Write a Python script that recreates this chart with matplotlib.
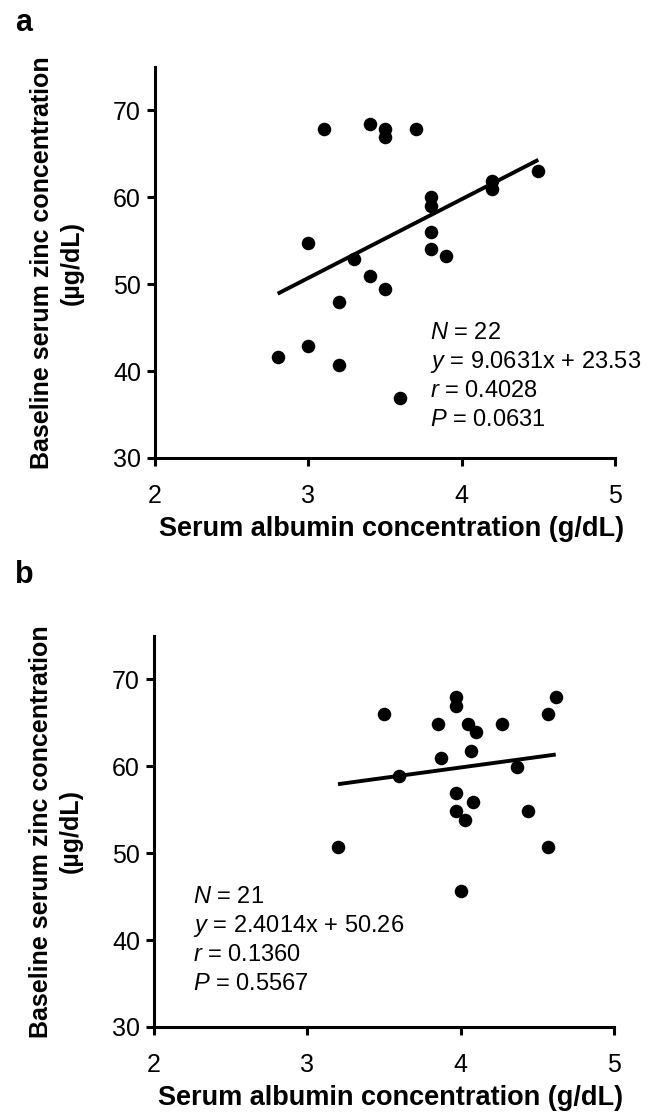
import numpy as np
import matplotlib
matplotlib.use('Agg')
from matplotlib import pyplot as plt

# panel a: albumin (g/dL) vs baseline zinc (ug/dL)
alb_a = [2.8, 3.0, 3.2, 3.6, 3.0, 3.2, 3.3, 3.4, 3.5, 3.1, 3.4,
         3.5, 3.5, 3.7, 3.8, 3.8, 3.8, 3.8, 3.9, 4.2, 4.2, 4.5]
zinc_a = [41.6, 42.9, 40.7, 36.9, 54.8, 47.9, 52.9, 51.0, 49.4, 67.9, 68.4,
          67.9, 66.9, 67.9, 60.0, 59.0, 56.0, 54.0, 53.3, 61.9, 61.0, 63.0]
fit_a = (9.0631, 23.53)
stats_a = ['$N$ = 22', '$y$ = 9.0631x + 23.53', '$r$ = 0.4028', '$P$ = 0.0631']

# panel b
alb_b = [3.2, 3.5, 3.6, 3.85, 3.87, 3.97, 3.97, 3.97, 3.97, 4.03, 4.0,
         4.05, 4.1, 4.07, 4.08, 4.27, 4.37, 4.44, 4.57, 4.62, 4.57]
zinc_b = [50.7, 66.0, 58.9, 64.9, 60.9, 68.0, 66.9, 56.9, 54.9, 53.8, 45.7,
          64.9, 63.9, 61.8, 55.9, 64.9, 59.9, 54.9, 66.0, 68.0, 50.7]
fit_b = (2.4014, 50.26)
stats_b = ['$N$ = 21', '$y$ = 2.4014x + 50.26', '$r$ = 0.1360', '$P$ = 0.5567']

x_ticks = [2, 3, 4, 5]
y_ticks = [30, 40, 50, 60, 70]

plt.rcParams['font.family'] = ['Liberation Sans', 'DejaVu Sans']
plt.rcParams['mathtext.fontset'] = 'custom'
plt.rcParams['mathtext.rm'] = 'Liberation Sans'
plt.rcParams['mathtext.it'] = 'Liberation Sans:italic'

fig = plt.figure(figsize=(6.6, 11.13), dpi=100)
ax_a = fig.add_axes([0.2348, 0.5885, 0.697, 0.3513])
ax_b = fig.add_axes([0.2333, 0.0773, 0.697, 0.3513])


def draw_panel(ax, xs, ys, fit, stats, tx, ty):
    ax.scatter(xs, ys, s=95, color='black', zorder=3, linewidths=0)
    xx = np.array([min(xs), max(xs)])
    ax.plot(xx, fit[0] * xx + fit[1], color='black', lw=2.8, zorder=2,
            solid_capstyle='butt')
    ax.set_xlim(2, 5)
    ax.set_ylim(30, 75)
    ax.set_xticks(x_ticks)
    ax.set_yticks(y_ticks)
    ax.spines['top'].set_visible(False)
    ax.spines['right'].set_visible(False)
    for s in ['left', 'bottom']:
        ax.spines[s].set_linewidth(2.2)
    ax.tick_params(direction='out', length=6, width=2.2, labelsize=18)
    ax.tick_params(axis='x', pad=13)
    ax.tick_params(axis='y', pad=4)
    ax.set_xlabel('Serum albumin concentration (g/dL)', fontsize=19.5,
                  fontweight='bold', va='top')
    ax.xaxis.set_label_coords(0.515, -0.148)
    ax.set_ylabel('Baseline serum zinc concentration\n(µg/dL)', fontsize=18,
                  fontweight='bold', linespacing=1.3)
    ax.yaxis.set_label_coords(-0.155, 0.5)
    for i, line in enumerate(stats):
        ax.text(tx, ty - i * 0.074, line, transform=ax.transAxes,
                fontsize=17, va='center', ha='left')


draw_panel(ax_a, alb_a, zinc_a, fit_a, stats_a, 0.598, 0.32)
draw_panel(ax_b, alb_b, zinc_b, fit_b, stats_b, 0.085, 0.333)

fig.text(15 / 660, 1 - 31 / 1113, 'a', fontsize=22, fontweight='bold',
         va='baseline', ha='left')
fig.text(15 / 660, 1 - 583 / 1113, 'b', fontsize=22, fontweight='bold',
         va='baseline', ha='left')

fig.savefig('out.png', dpi=100)
